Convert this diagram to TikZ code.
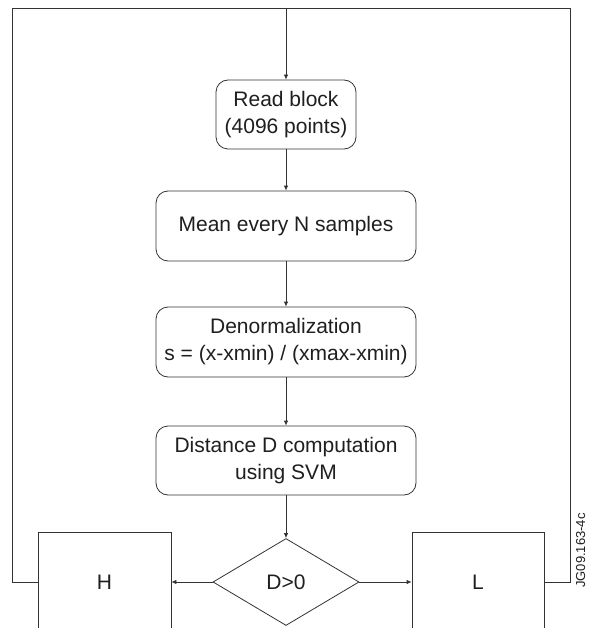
\documentclass[tikz,border=0pt]{standalone}
\usepackage{fontspec}
\setmainfont{Liberation Sans}
\usetikzlibrary{shapes.geometric,arrows.meta}
\begin{document}
\begin{tikzpicture}[x=1pt,y=-1pt,
  every node/.style={text=black!88},
  ln/.style={draw=black!80,line width=0.8pt},
  arr/.style={ln,-{Latex[length=5pt,width=4.5pt]}},
  rbox/.style={ln,rectangle,rounded corners=12pt,align=center,inner sep=0pt,
    font=\fontsize{21}{27}\selectfont},
  sbox/.style={ln,rectangle,inner sep=0pt,font=\fontsize{21}{26}\selectfont},
  dec/.style={ln,diamond,inner sep=0pt,font=\fontsize{21}{26}\selectfont}]
\useasboundingbox (0,0) rectangle (588,628);
\clip (0,0) rectangle (588,628);
\fill[white] (0,0) rectangle (588,628);
\node[rbox,minimum width=140pt,minimum height=69pt] (read) at (286,114.5) {Read block\\(4096 points)};
\node[rbox,minimum width=260pt,minimum height=70pt] (mean) at (286,226) {Mean every N samples};
\node[rbox,minimum width=260pt,minimum height=70pt] (denorm) at (286,342) {Denormalization\\s = (x-xmin) / (xmax-xmin)};
\node[rbox,minimum width=260pt,minimum height=69pt] (dist) at (286,460.5) {Distance D computation\\using SVM};
\node[dec,minimum width=146pt,minimum height=87pt] (dia) at (286,582) {D>0};
\node[sbox,minimum width=133pt,minimum height=100pt] (H) at (104.5,582) {H};
\node[sbox,minimum width=132pt,minimum height=100pt] (L) at (478,582) {L};
\node[rotate=90,anchor=base west,font=\fontsize{13}{15}\selectfont,inner sep=0pt] (tag) at (585,588) {JG09.163-4c};
\coordinate (tr) at (570,8);
\coordinate (tl) at (12,8);
\coordinate (tm) at (286,8);
\draw[ln] (L.east) -| (tr) -- (tl) |- (H.west);
\draw[arr] (tm) -- (read.north);
\draw[arr] (read.south) -- (mean.north);
\draw[arr] (mean.south) -- (denorm.north);
\draw[arr] (denorm.south) -- (dist.north);
\draw[arr] (dist.south) -- (dia.north);
\draw[arr] (dia.west) -- (H.east);
\draw[arr] (dia.east) -- (L.west);
\end{tikzpicture}
\end{document}
